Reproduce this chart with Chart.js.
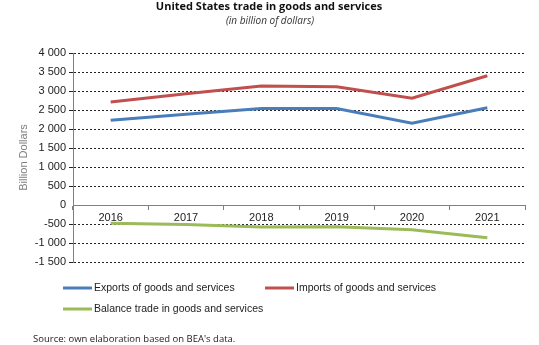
<!DOCTYPE html>
<html>
<head>
<meta charset="utf-8">
<script src="https://cdn.jsdelivr.net/npm/chart.js@4/dist/chart.umd.min.js"></script>
<style>
  html, body { margin: 0; padding: 0; background: #ffffff; }
  #wrap { position: relative; width: 539px; height: 345px; }
</style>
</head>
<body>
<div id="wrap"><canvas id="chart" width="539" height="345"></canvas></div>
<script>
// US trade in goods and services, billion dollars
const years = ['2016', '2017', '2018', '2019', '2020', '2021'];
const exportsValues = [2230, 2390, 2540, 2540, 2150, 2560];
const importsValues = [2710, 2930, 3130, 3110, 2810, 3400];
const balanceValues = [-480, -510, -580, -570, -650, -860];

const seriesNames = [
  'Exports of goods and services',
  'Imports of goods and services',
  'Balance trade in goods and services'
];
const seriesColors = ['#4a7ebb', '#c0504d', '#9bbb59'];

const titleText = 'United States trade in goods and services';
const subtitleText = '(in billion of dollars)';
const sourceText = "Source: own elaboration based on BEA's data.";

function fmtThousands(v) {
  const s = Math.abs(v).toString().replace(/\B(?=(\d{3})+(?!\d))/g, ' ');
  return (v < 0 ? '-' : '') + s;
}

// Headings, two-column legend and source note drawn on the canvas
const decorations = {
  id: 'decorations',
  afterDraw(chart) {
    const ctx = chart.ctx;
    ctx.save();
    ctx.fillStyle = '#111111';
    ctx.textAlign = 'center';
    ctx.textBaseline = 'middle';
    ctx.font = 'bold 11px "Open Sans"';
    ctx.fillText(titleText, 269, 7);
    ctx.font = 'italic 10px "Open Sans"';
    ctx.fillStyle = '#333333';
    ctx.fillText(subtitleText, 270, 21);

    const items = chart.data.datasets.map((d, i) => ({
      text: d.label, color: d.borderColor,
      x: i === 1 ? 265 : 63, y: i === 2 ? 309 : 288
    }));
    ctx.textAlign = 'left';
    ctx.font = '10.5px "Liberation Sans"';
    items.forEach(it => {
      ctx.strokeStyle = it.color;
      ctx.lineWidth = 3;
      ctx.beginPath();
      ctx.moveTo(it.x, it.y);
      ctx.lineTo(it.x + 29, it.y);
      ctx.stroke();
      ctx.fillStyle = '#222222';
      ctx.fillText(it.text, it.x + 31, it.y);
    });

    ctx.font = '9.5px "Open Sans"';
    ctx.fillStyle = '#222222';
    ctx.fillText(sourceText, 33, 339);
    ctx.restore();
  }
};

const makeSeries = (i, values) => ({
  label: seriesNames[i],
  data: values,
  borderColor: seriesColors[i],
  backgroundColor: seriesColors[i],
  borderWidth: 3,
  pointRadius: 0,
  tension: 0,
  fill: false
});

new Chart(document.getElementById('chart'), {
  type: 'line',
  data: {
    labels: years,
    datasets: [
      makeSeries(0, exportsValues),
      makeSeries(1, importsValues),
      makeSeries(2, balanceValues)
    ]
  },
  options: {
    responsive: false,
    animation: false,
    layout: { padding: { top: 53, right: 14, bottom: 83, left: 0 } },
    plugins: {
      legend: { display: false },
      tooltip: { enabled: false }
    },
    scales: {
      x: {
        position: { y: 0 },
        offset: true,
        grid: {
          offset: true,
          drawOnChartArea: false,
          drawTicks: true,
          tickLength: 4,
          color: '#808080'
        },
        border: { display: true, color: '#808080', width: 1 },
        ticks: {
          color: '#222222',
          padding: 2,
          font: { family: '"Liberation Sans"', size: 11 }
        }
      },
      y: {
        min: -1500,
        max: 4000,
        afterFit(scale) { scale.width = 73; },
        ticks: {
          stepSize: 500,
          color: '#222222',
          padding: 3,
          font: { family: '"Liberation Sans"', size: 11 },
          callback: v => fmtThousands(v)
        },
        grid: {
          tickLength: 4,
          color: ctx => (ctx.tick && ctx.tick.value === 0) ? 'rgba(0,0,0,0)' : '#222222',
          lineWidth: 1
        },
        border: { display: true, color: '#808080', width: 1, dash: [2, 2] },
        title: {
          display: true,
          text: 'Billion Dollars',
          color: '#808080',
          padding: { top: 17, bottom: 0 },
          font: { family: '"Liberation Sans"', size: 11 }
        }
      }
    }
  },
  plugins: [decorations]
});
</script>
</body>
</html>
